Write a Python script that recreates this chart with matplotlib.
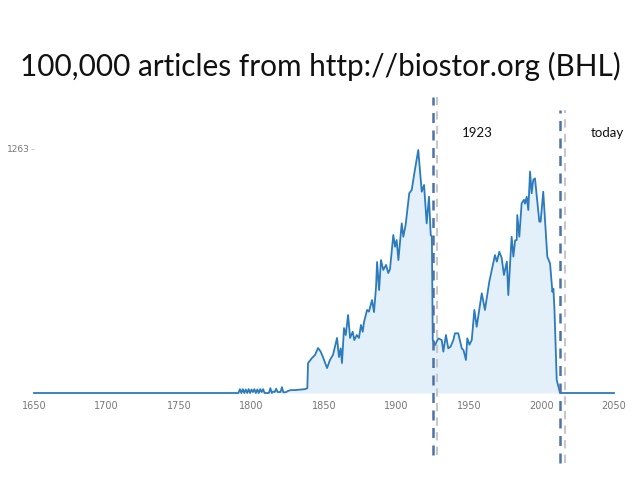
import numpy as np
import matplotlib
matplotlib.use("Agg")
import matplotlib.pyplot as plt

# articles per year
years = [1650, 1790, 1791, 1792, 1793, 1794, 1795, 1796, 1797, 1798, 1799,
         1800, 1801, 1802, 1803, 1804, 1805, 1806, 1807, 1808, 1809, 1812,
         1813, 1814, 1815, 1816, 1817, 1818, 1820, 1821, 1822, 1824, 1825,
         1827, 1830, 1834, 1837, 1838.5,
         1839.0, 1841.7, 1843.8, 1845.9, 1847.7, 1849.3, 1852.1, 1854.1,
         1856.2, 1859.0, 1860.3, 1861.5, 1862.4, 1863.8, 1865.0, 1866.6,
         1868.0, 1869.8, 1870.9, 1872.6, 1874.1, 1875.5, 1876.7, 1877.6,
         1879.7, 1881.0, 1883.1, 1884.5, 1885.9, 1886.6, 1888.0, 1889.3,
         1890.9, 1892.8, 1894.3, 1895.5, 1897.8, 1899.0, 1900.1, 1901.3,
         1903.6, 1904.7, 1906.3, 1908.8, 1910.5, 1912.1, 1915.0, 1917.4,
         1919.0, 1920.8, 1922.4, 1923.6, 1924.4,
         1925.0, 1926.6, 1928.8, 1931.2, 1932.3, 1934.1, 1935.7, 1937.3,
         1939.2, 1940.3, 1942.6, 1945.0, 1946.2, 1947.9, 1948.8, 1950.3,
         1951.9, 1953.7, 1955.3, 1958.8, 1961.0, 1964.0, 1967.9, 1969.2,
         1970.9, 1972.5, 1974.1, 1976.1, 1977.1, 1979.4, 1980.6, 1981.8,
         1982.9, 1983.3, 1984.7, 1986.3, 1987.9, 1988.6, 1989.8, 1990.9,
         1992.1, 1993.2, 1994.3, 1995.5, 1998.5, 1999.4, 2001.2, 2004.0,
         2005.9, 2007.5, 2008.2, 2008.9, 2010.5, 2012.8, 2050]
counts = [0, 0, 0, 20, 0, 20, 0, 18, 0, 20, 0,
          18, 5, 20, 0, 18, 0, 20, 5, 20, 0, 0,
          25, 0, 8, 5, 22, 5, 5, 30, 3, 5, 10,
          15, 15, 18, 20, 25,
          155, 181, 197, 233, 214, 186, 129, 171,
          197, 285, 186, 231, 155, 336, 300, 404,
          285, 317, 274, 300, 285, 352, 317, 367,
          430, 421, 481, 419, 550, 678, 533, 688,
          637, 663, 621, 640, 818, 757, 792, 688,
          878, 809, 870, 1034, 1051, 1128, 1258, 1042,
          1077, 878, 1016, 818, 809,
          274, 248, 283, 274, 214, 300, 231, 240,
          274, 309, 309, 231, 222, 171, 283, 250,
          274, 430, 343, 516, 430, 576, 714, 680,
          731, 700, 611, 680, 507, 809, 706, 790,
          792, 921, 809, 982, 1000, 980, 1016, 947,
          1146, 1034, 1103, 1111, 887, 887, 1042, 706,
          671, 524, 540, 438, 67, 0, 0]

xticks = [1650, 1700, 1750, 1800, 1850, 1900, 1950, 2000, 2050]
ytick = 1263
marks = [1925, 2013]
mark_labels = ["1923", "today"]

W, H = 638, 479
fig = plt.figure(figsize=(W / 100, H / 100), dpi=100)

# axes placed so 1650..2050 spans x 34..614 and 0..1263 spans y 393..149
px_per_unit = (393 - 149) / ytick
ytop = 1300
ax = fig.add_axes([34 / W, (H - 393) / H, 580 / W, ytop * px_per_unit / H])
ax.set_xlim(1650, 2050)
ax.set_ylim(0, ytop)

line_col = "#2b7bbd"
ax.fill_between(years, counts, 0, color="#e4f0f9", lw=0)
ax.plot(years, counts, color=line_col, lw=1.3, clip_on=False)

for s in ax.spines.values():
    s.set_visible(False)
ax.set_xticks(xticks)
ax.set_xticklabels([str(t) for t in xticks])
ax.set_yticks([ytick])
ax.set_yticklabels([str(ytick)])
ax.tick_params(axis="x", length=0, pad=6, labelsize=7, labelcolor="#777777")
ax.tick_params(axis="y", length=2, width=0.6, color="#bbbbbb", pad=1,
               labelsize=6.5, labelcolor="#777777")

# dashed markers, drawn past the axes like on the slide
ends = [(455, 97), (463, 110)]
for m, (b, t) in zip(marks, ends):
    bot = (393 - b) / px_per_unit
    top = (393 - t) / px_per_unit
    ax.plot([m, m], [bot, top], color="#4d71a8", lw=1.8,
            dashes=(4, 3), clip_on=False)
    ax.plot([m + 3.2, m + 3.2], [bot, top], color="#c4c8cc", lw=1.5,
            dashes=(4, 3), clip_on=False)

fig.text(477 / W, 1 - 133 / H, mark_labels[0], ha="center", va="center",
         fontsize=9.5, family="Lato", color="#111111")
fig.text(607 / W, 1 - 133 / H, mark_labels[1], ha="center", va="center",
         fontsize=9.5, family="Lato", color="#111111")

fig.text(320 / W, 1 - 66 / H, "100,000 articles from http://biostor.org (BHL)",
         ha="center", va="center", fontsize=21.4, family="Lato",
         color="#111111")

fig.savefig("out.png", dpi=100)
